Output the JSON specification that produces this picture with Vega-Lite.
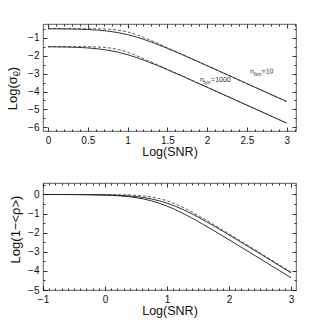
{
  "$schema": "https://vega.github.io/schema/vega-lite/v6.json",
  "padding": {"left": 6, "top": 23, "right": 30, "bottom": 5},
  "spacing": 21,
  "config": {
    "view": {"stroke": "#333", "strokeWidth": 0.8},
    "font": "Liberation Sans",
    "axis": {"domain": false, "grid": false, "tickColor": "#000", "tickWidth": 0.8, "tickSize": -4, "labelFont": "Liberation Sans", "labelFontSize": 10, "labelColor": "#111", "titleFont": "Liberation Sans", "titleFontSize": 13, "titleFontWeight": "normal", "titleColor": "#111", "labelPadding": 8, "labelFlush": false, "labelOverlap": false}
  },
  "datasets": {
    "top": [
      {"s": "a10", "d": "solid", "x": 0, "y": -0.505}, {"s": "a10", "d": "solid", "x": 0.25, "y": -0.516}, {"s": "a10", "d": "solid", "x": 0.5, "y": -0.547}, {"s": "a10", "d": "solid", "x": 0.75, "y": -0.635}, {"s": "a10", "d": "solid", "x": 1, "y": -0.832}, {"s": "a10", "d": "solid", "x": 1.25, "y": -1.166}, {"s": "a10", "d": "solid", "x": 1.5, "y": -1.596}, {"s": "a10", "d": "solid", "x": 1.75, "y": -2.072}, {"s": "a10", "d": "solid", "x": 2, "y": -2.564}, {"s": "a10", "d": "solid", "x": 2.5, "y": -3.56}, {"s": "a10", "d": "solid", "x": 3, "y": -4.56},
      {"s": "a10d", "d": "dashed", "x": 0, "y": -0.5}, {"s": "a10d", "d": "dashed", "x": 0.25, "y": -0.5}, {"s": "a10d", "d": "dashed", "x": 0.5, "y": -0.503}, {"s": "a10d", "d": "dashed", "x": 0.75, "y": -0.527}, {"s": "a10d", "d": "dashed", "x": 1, "y": -0.683}, {"s": "a10d", "d": "dashed", "x": 1.25, "y": -1.076}, {"s": "a10d", "d": "dashed", "x": 1.5, "y": -1.562}, {"s": "a10d", "d": "dashed", "x": 1.75, "y": -2.06}, {"s": "a10d", "d": "dashed", "x": 2, "y": -2.56}, {"s": "a10d", "d": "dashed", "x": 2.5, "y": -3.56}, {"s": "a10d", "d": "dashed", "x": 3, "y": -4.56},
      {"s": "a1000", "d": "solid", "x": 0, "y": -1.508}, {"s": "a1000", "d": "solid", "x": 0.25, "y": -1.524}, {"s": "a1000", "d": "solid", "x": 0.5, "y": -1.573}, {"s": "a1000", "d": "solid", "x": 0.75, "y": -1.697}, {"s": "a1000", "d": "solid", "x": 1, "y": -1.95}, {"s": "a1000", "d": "solid", "x": 1.25, "y": -2.33}, {"s": "a1000", "d": "solid", "x": 1.5, "y": -2.783}, {"s": "a1000", "d": "solid", "x": 1.75, "y": -3.267}, {"s": "a1000", "d": "solid", "x": 2, "y": -3.762}, {"s": "a1000", "d": "solid", "x": 2.5, "y": -4.76}, {"s": "a1000", "d": "solid", "x": 3, "y": -5.76},
      {"s": "a1000d", "d": "dashed", "x": 0, "y": -1.5}, {"s": "a1000d", "d": "dashed", "x": 0.25, "y": -1.501}, {"s": "a1000d", "d": "dashed", "x": 0.5, "y": -1.507}, {"s": "a1000d", "d": "dashed", "x": 0.75, "y": -1.562}, {"s": "a1000d", "d": "dashed", "x": 1, "y": -1.817}, {"s": "a1000d", "d": "dashed", "x": 1.25, "y": -2.267}, {"s": "a1000d", "d": "dashed", "x": 1.5, "y": -2.761}, {"s": "a1000d", "d": "dashed", "x": 1.75, "y": -3.26}, {"s": "a1000d", "d": "dashed", "x": 2, "y": -3.76}, {"s": "a1000d", "d": "dashed", "x": 2.5, "y": -4.76}, {"s": "a1000d", "d": "dashed", "x": 3, "y": -5.76}
    ],
    "labels": [
      {"t": "n", "r": "main", "x": 2.54, "y": -2.89},
      {"t": "bin", "r": "sub", "x": 2.59, "y": -2.89},
      {"t": "=10", "r": "main", "x": 2.685, "y": -2.89},
      {"t": "n", "r": "main", "x": 1.91, "y": -3.35},
      {"t": "bin", "r": "sub", "x": 1.955, "y": -3.35},
      {"t": "=1000", "r": "main", "x": 2.05, "y": -3.35}
    ],
    "bottom": [
      {"s": "b10", "d": "solid", "x": -1, "y": -0.001}, {"s": "b10", "d": "solid", "x": -0.5, "y": -0.004}, {"s": "b10", "d": "solid", "x": 0, "y": -0.021}, {"s": "b10", "d": "solid", "x": 0.25, "y": -0.049}, {"s": "b10", "d": "solid", "x": 0.5, "y": -0.111}, {"s": "b10", "d": "solid", "x": 0.75, "y": -0.235}, {"s": "b10", "d": "solid", "x": 1, "y": -0.453}, {"s": "b10", "d": "solid", "x": 1.25, "y": -0.776}, {"s": "b10", "d": "solid", "x": 1.5, "y": -1.181}, {"s": "b10", "d": "solid", "x": 1.75, "y": -1.636}, {"s": "b10", "d": "solid", "x": 2, "y": -2.115}, {"s": "b10", "d": "solid", "x": 2.5, "y": -3.103}, {"s": "b10", "d": "solid", "x": 3, "y": -4.101},
      {"s": "b1000", "d": "solid", "x": -1, "y": -0.001}, {"s": "b1000", "d": "solid", "x": -0.5, "y": -0.006}, {"s": "b1000", "d": "solid", "x": 0, "y": -0.033}, {"s": "b1000", "d": "solid", "x": 0.25, "y": -0.076}, {"s": "b1000", "d": "solid", "x": 0.5, "y": -0.166}, {"s": "b1000", "d": "solid", "x": 0.75, "y": -0.336}, {"s": "b1000", "d": "solid", "x": 1, "y": -0.609}, {"s": "b1000", "d": "solid", "x": 1.25, "y": -0.978}, {"s": "b1000", "d": "solid", "x": 1.5, "y": -1.413}, {"s": "b1000", "d": "solid", "x": 1.75, "y": -1.883}, {"s": "b1000", "d": "solid", "x": 2, "y": -2.37}, {"s": "b1000", "d": "solid", "x": 2.5, "y": -3.362}, {"s": "b1000", "d": "solid", "x": 3, "y": -4.36},
      {"s": "bd", "d": "dashed", "x": -1, "y": 0}, {"s": "bd", "d": "dashed", "x": -0.5, "y": -0.001}, {"s": "bd", "d": "dashed", "x": 0, "y": -0.005}, {"s": "bd", "d": "dashed", "x": 0.25, "y": -0.016}, {"s": "bd", "d": "dashed", "x": 0.5, "y": -0.047}, {"s": "bd", "d": "dashed", "x": 0.75, "y": -0.135}, {"s": "bd", "d": "dashed", "x": 1, "y": -0.332}, {"s": "bd", "d": "dashed", "x": 1.25, "y": -0.666}, {"s": "bd", "d": "dashed", "x": 1.5, "y": -1.096}, {"s": "bd", "d": "dashed", "x": 1.75, "y": -1.572}, {"s": "bd", "d": "dashed", "x": 2, "y": -2.064}, {"s": "bd", "d": "dashed", "x": 2.5, "y": -3.06}, {"s": "bd", "d": "dashed", "x": 3, "y": -4.06}
    ]
  },
  "vconcat": [
    {
      "width": 253,
      "height": 107,
      "data": {"name": "top"},
      "layer": [
        {
          "transform": [{"filter": "datum.d == 'solid'"}],
          "mark": {"type": "line", "interpolate": "monotone", "stroke": "#1a1a1a", "strokeWidth": 0.9},
          "encoding": {
            "x": {"field": "x", "type": "quantitative", "scale": {"domain": [-0.063, 3.117], "nice": false, "zero": false},
              "axis": {"orient": "bottom", "title": "Log(SNR)", "titlePadding": 0, "titleFontSize": 12.5,
                "values": [0,0.1,0.2,0.3,0.4,0.5,0.6,0.7,0.8,0.9,1,1.1,1.2,1.3,1.4,1.5,1.6,1.7,1.8,1.9,2,2.1,2.2,2.3,2.4,2.5,2.6,2.7,2.8,2.9,3,3.1],
                "labelExpr": "abs(datum.value*2-round(datum.value*2))<0.001 ? format(datum.value,'~g') : ''",
                "tickDash": {"condition": {"test": "abs(datum.value*2-round(datum.value*2))<0.001", "value": [4, 0]}, "value": [2, 10]}}},
            "y": {"field": "y", "type": "quantitative", "scale": {"domain": [-6.2, -0.24], "nice": false, "zero": false},
              "axis": {"orient": "left", "title": "Log(σᵨ)", "titlePadding": 8, "titleY": 64,
                "values": [-6,-5.5,-5,-4.5,-4,-3.5,-3,-2.5,-2,-1.5,-1,-0.5],
                "labelExpr": "abs(datum.value-round(datum.value))<0.001 ? format(datum.value,'~g') : ''",
                "tickDash": {"condition": {"test": "abs(datum.value-round(datum.value))<0.001", "value": [4, 0]}, "value": [2, 10]}}},
            "detail": {"field": "s"}
          }
        },
        {
          "transform": [{"filter": "datum.d == 'dashed'"}],
          "mark": {"type": "line", "interpolate": "monotone", "stroke": "#333", "strokeWidth": 0.8, "strokeDash": [3, 2]},
          "encoding": {
            "x": {"field": "x", "type": "quantitative",
              "axis": {"orient": "top", "title": null, "labels": false,
                "values": [0,0.1,0.2,0.3,0.4,0.5,0.6,0.7,0.8,0.9,1,1.1,1.2,1.3,1.4,1.5,1.6,1.7,1.8,1.9,2,2.1,2.2,2.3,2.4,2.5,2.6,2.7,2.8,2.9,3,3.1],
                "tickDash": {"condition": {"test": "abs(datum.value*2-round(datum.value*2))<0.001", "value": [4, 0]}, "value": [2, 10]}}},
            "y": {"field": "y", "type": "quantitative",
              "axis": {"orient": "right", "title": null, "labels": false,
                "values": [-6,-5.5,-5,-4.5,-4,-3.5,-3,-2.5,-2,-1.5,-1,-0.5],
                "tickDash": {"condition": {"test": "abs(datum.value-round(datum.value))<0.001", "value": [4, 0]}, "value": [2, 10]}}},
            "detail": {"field": "s"}
          }
        },
        {
          "data": {"name": "labels"},
          "transform": [{"filter": "datum.r == 'main'"}],
          "mark": {"type": "text", "align": "left", "baseline": "middle", "fontSize": 7, "font": "Liberation Sans", "fill": "#222", "opacity": 0.9, "angle": 0.3},
          "encoding": {
            "x": {"field": "x", "type": "quantitative", "axis": null},
            "y": {"field": "y", "type": "quantitative", "axis": null},
            "text": {"field": "t"}
          }
        },
        {
          "data": {"name": "labels"},
          "transform": [{"filter": "datum.r == 'sub'"}],
          "mark": {"type": "text", "align": "left", "baseline": "middle", "fontSize": 5.5, "dy": 2.5, "font": "Liberation Sans", "fill": "#222", "opacity": 0.9, "angle": 0.3},
          "encoding": {
            "x": {"field": "x", "type": "quantitative", "axis": null},
            "y": {"field": "y", "type": "quantitative", "axis": null},
            "text": {"field": "t"}
          }
        }
      ]
    },
    {
      "width": 253,
      "height": 107,
      "data": {"name": "bottom"},
      "layer": [
        {
          "transform": [{"filter": "datum.d == 'solid'"}],
          "mark": {"type": "line", "interpolate": "monotone", "stroke": "#1a1a1a", "strokeWidth": 0.9},
          "encoding": {
            "x": {"field": "x", "type": "quantitative", "scale": {"domain": [-1, 3.08], "nice": false, "zero": false},
              "axis": {"orient": "bottom", "title": "Log(SNR)", "titlePadding": 0, "titleFontSize": 12.5,
                "values": [-1,-0.9,-0.8,-0.7,-0.6,-0.5,-0.4,-0.3,-0.2,-0.1,0,0.1,0.2,0.3,0.4,0.5,0.6,0.7,0.8,0.9,1,1.1,1.2,1.3,1.4,1.5,1.6,1.7,1.8,1.9,2,2.1,2.2,2.3,2.4,2.5,2.6,2.7,2.8,2.9,3],
                "labelExpr": "abs(datum.value-round(datum.value))<0.001 ? format(datum.value,'~g') : ''",
                "tickDash": {"condition": {"test": "abs(datum.value-round(datum.value))<0.001", "value": [4, 0]}, "value": [2, 10]}}},
            "y": {"field": "y", "type": "quantitative", "scale": {"domain": [-5, 0.6], "nice": false, "zero": false},
              "axis": {"orient": "left", "title": "Log(1−<ρ>)", "titlePadding": 5, "titleY": 46,
                "values": [-5,-4.5,-4,-3.5,-3,-2.5,-2,-1.5,-1,-0.5,0,0.5],
                "labelExpr": "abs(datum.value-round(datum.value))<0.001 ? format(datum.value,'~g') : ''",
                "tickDash": {"condition": {"test": "abs(datum.value-round(datum.value))<0.001", "value": [4, 0]}, "value": [2, 10]}}},
            "detail": {"field": "s"}
          }
        },
        {
          "transform": [{"filter": "datum.d == 'dashed'"}],
          "mark": {"type": "line", "interpolate": "monotone", "stroke": "#333", "strokeWidth": 0.8, "strokeDash": [3, 2]},
          "encoding": {
            "x": {"field": "x", "type": "quantitative",
              "axis": {"orient": "top", "title": null, "labels": false,
                "values": [-1,-0.9,-0.8,-0.7,-0.6,-0.5,-0.4,-0.3,-0.2,-0.1,0,0.1,0.2,0.3,0.4,0.5,0.6,0.7,0.8,0.9,1,1.1,1.2,1.3,1.4,1.5,1.6,1.7,1.8,1.9,2,2.1,2.2,2.3,2.4,2.5,2.6,2.7,2.8,2.9,3],
                "tickDash": {"condition": {"test": "abs(datum.value-round(datum.value))<0.001", "value": [4, 0]}, "value": [2, 10]}}},
            "y": {"field": "y", "type": "quantitative",
              "axis": {"orient": "right", "title": null, "labels": false,
                "values": [-5,-4.5,-4,-3.5,-3,-2.5,-2,-1.5,-1,-0.5,0,0.5],
                "tickDash": {"condition": {"test": "abs(datum.value-round(datum.value))<0.001", "value": [4, 0]}, "value": [2, 10]}}},
            "detail": {"field": "s"}
          }
        }
      ]
    }
  ]
}
